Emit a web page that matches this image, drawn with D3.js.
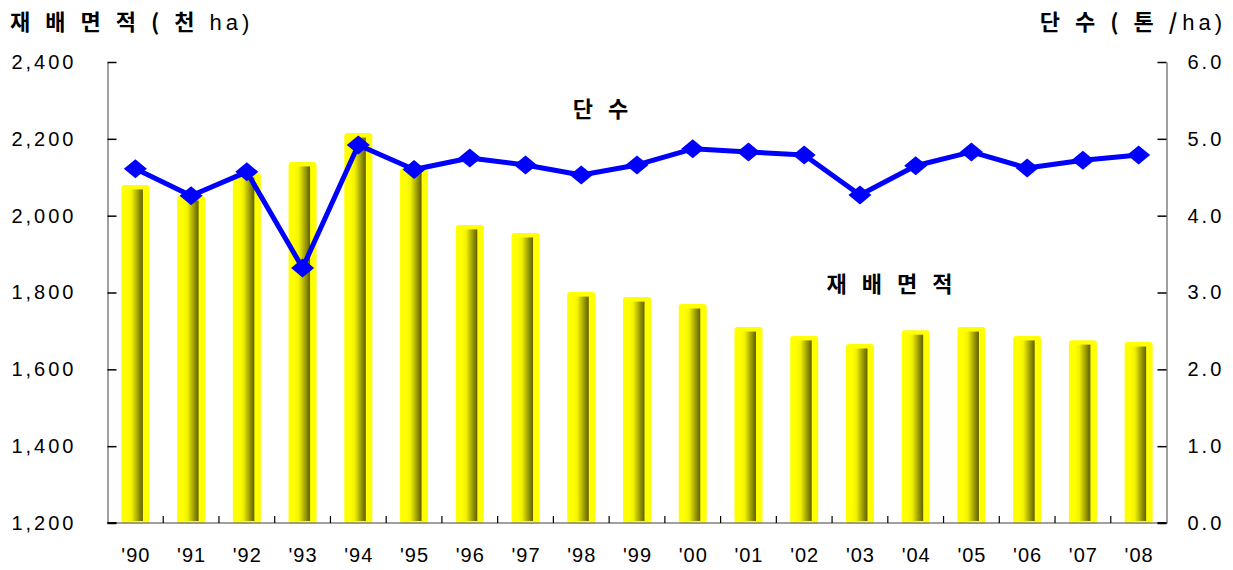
<!DOCTYPE html>
<html><head><meta charset="utf-8">
<script src="https://cdn.jsdelivr.net/npm/d3@7"></script>
<style>
body{margin:0;background:#fff;}
svg{display:block;}
text{font-family:"Liberation Sans",Arial,sans-serif;fill:#000;}
.kr{font-family:"Noto Sans CJK KR","Liberation Sans",sans-serif;}
</style></head>
<body>
<svg id="c" width="1233" height="570"></svg>
<script>
const categories = ["'90","'91","'92","'93","'94","'95","'96","'97","'98","'99","'00","'01","'02","'03","'04","'05","'06","'07","'08"];
const areaValues = [2080,2051,2111,2140,2215,2124,1976,1955,1801,1788,1770,1710,1687,1666,1702,1710,1687,1676,1671];
const yieldValues = [4.61,4.26,4.57,3.32,4.92,4.60,4.75,4.66,4.53,4.66,4.87,4.83,4.79,4.27,4.65,4.83,4.62,4.72,4.79];
const leftTicks = [1200,1400,1600,1800,2000,2200,2400];
const rightTicks = [0,1,2,3,4,5,6];

const svg = d3.select("#c");
const L = 107.5, R = 1166.5, T = 62, B = 523;

const x = d3.scaleBand().domain(categories).range([L, R]).padding(0);
const yL = d3.scaleLinear().domain([1200, 2400]).range([B, T]);
const yR = d3.scaleLinear().domain([0, 6]).range([B, T]);

const defs = svg.append("defs");
const g = defs.append("linearGradient").attr("id","barGrad").attr("x1","0").attr("x2","1").attr("y1","0").attr("y2","0");
g.append("stop").attr("offset","0%").attr("stop-color","#ffff00");
g.append("stop").attr("offset","30%").attr("stop-color","#f2f200");
g.append("stop").attr("offset","100%").attr("stop-color","#5e5e00");

// bars
const bars = svg.append("g");
categories.forEach((c, i) => {
  const cx = x(c) + x.bandwidth() / 2;
  const top = yL(areaValues[i]);
  bars.append("rect").attr("x", cx - 14).attr("y", top).attr("width", 28).attr("height", B + 1 - top)
    .attr("rx", 3).attr("fill", "#ffff00");
  bars.append("rect").attr("x", cx - 8.5).attr("y", top + 4.5).attr("width", 16).attr("height", B - 2 - (top + 4.5))
    .attr("fill", "url(#barGrad)");
});

// axes
const axL = svg.append("g").attr("transform", `translate(${L},0)`)
  .call(d3.axisLeft(yL).tickValues(leftTicks).tickSizeInner(-9).tickSizeOuter(0).tickPadding(31)
    .tickFormat(d3.format(",")));
axL.select(".domain").attr("stroke", "#808080").attr("stroke-width", 1.5);
axL.selectAll(".tick line").attr("stroke", "#000").attr("stroke-width", 1.5);
axL.selectAll(".tick text").attr("font-size", 20).attr("letter-spacing", "3px")
  .attr("font-family", "Liberation Sans, Arial, sans-serif").attr("fill", "#000");

const axR = svg.append("g").attr("transform", `translate(${R},0)`)
  .call(d3.axisRight(yR).tickValues(rightTicks).tickSizeInner(-9).tickSizeOuter(0).tickPadding(21)
    .tickFormat(d3.format(".1f")));
axR.select(".domain").attr("stroke", "#808080").attr("stroke-width", 1.5);
axR.selectAll(".tick line").attr("stroke", "#000").attr("stroke-width", 1.5);
axR.selectAll(".tick text").attr("font-size", 20).attr("letter-spacing", "3px")
  .attr("font-family", "Liberation Sans, Arial, sans-serif").attr("fill", "#000");

// bottom axis line
svg.append("line").attr("x1", L).attr("x2", R).attr("y1", B).attr("y2", B)
  .attr("stroke", "#808080").attr("stroke-width", 1.5);
// boundary ticks
categories.slice(1).forEach(c => {
  svg.append("line").attr("x1", x(c)).attr("x2", x(c)).attr("y1", B).attr("y2", B - 7)
    .attr("stroke", "#000").attr("stroke-width", 1.2);
});
// corner ticks
svg.append("line").attr("x1", L).attr("x2", L + 9).attr("y1", B).attr("y2", B).attr("stroke", "#000").attr("stroke-width", 2);
svg.append("line").attr("x1", R - 9).attr("x2", R).attr("y1", B).attr("y2", B).attr("stroke", "#000").attr("stroke-width", 2);

// x labels
svg.append("g").selectAll("text").data(categories).join("text")
  .attr("x", d => x(d) + x.bandwidth() / 2 + 0.5).attr("y", 562)
  .attr("text-anchor", "middle").attr("font-size", 20).attr("letter-spacing", "1px")
  .text(d => d);

// line
const line = d3.line().x((d, i) => x(categories[i]) + x.bandwidth() / 2).y(d => yR(d));
svg.append("path").datum(yieldValues).attr("d", line).attr("fill", "none")
  .attr("stroke", "#0000ff").attr("stroke-width", 5).attr("stroke-linejoin", "round");
svg.append("g").selectAll("path").data(yieldValues).join("path")
  .attr("transform", (d, i) => `translate(${x(categories[i]) + x.bandwidth() / 2},${yR(d)})`)
  .attr("d", "M0,-9.5L11.5,0L0,9.5L-11.5,0Z").attr("fill", "#0000ff");

// titles
const t1 = svg.append("text").attr("x", 10).attr("y", 30).attr("font-size", 22).attr("letter-spacing", "5px");
t1.append("tspan").attr("class", "kr").attr("font-weight", "bold").text("재 배 면 적 ( 천 ");
t1.append("tspan").attr("letter-spacing", "4px").text("ha)");

const t2 = svg.append("text").attr("x", 1226).attr("y", 30).attr("font-size", 22).attr("letter-spacing", "5px").attr("text-anchor", "end");
t2.append("tspan").attr("class", "kr").attr("font-weight", "bold").text("단 수 ( 톤 /");
t2.append("tspan").attr("letter-spacing", "4px").text("ha)");

svg.append("text").attr("class", "kr").attr("x", 603).attr("y", 117).attr("text-anchor", "middle")
  .attr("font-size", 22).attr("font-weight", "bold").attr("letter-spacing", "5px").text("단 수");
svg.append("text").attr("class", "kr").attr("x", 892).attr("y", 292).attr("text-anchor", "middle")
  .attr("font-size", 22).attr("font-weight", "bold").attr("letter-spacing", "5px").text("재 배 면 적");
</script>
</body></html>
